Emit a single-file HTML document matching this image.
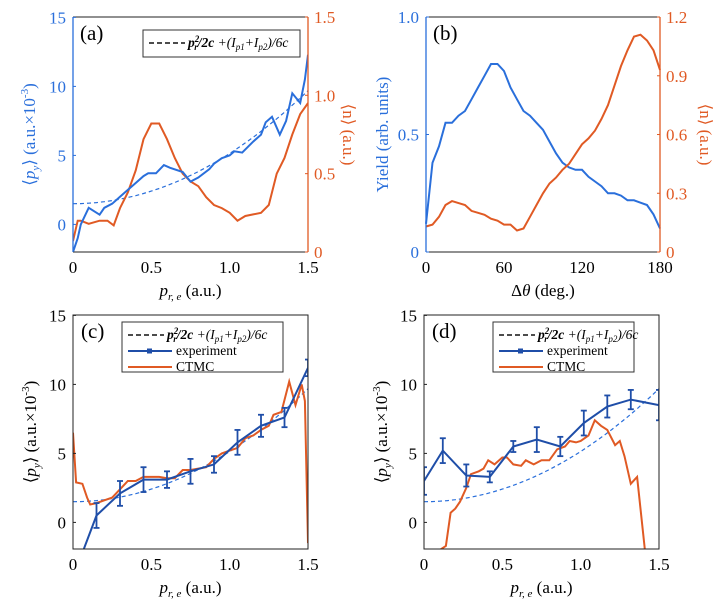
<!DOCTYPE html>
<html><head><meta charset="utf-8"><style>
body{margin:0;background:#fff}
svg{display:block;font-family:"Liberation Serif",serif}
</style></head><body>
<svg id="s" width="722" height="607" viewBox="0 0 722 607" xmlns="http://www.w3.org/2000/svg"></svg>
<script>
const S=document.getElementById('s');let h='';
const B='#2a6fdb',BD='#1f4ea8',O='#e05a24';
function pl(pts,fx,fy,col,w,extra){return `<polyline fill="none" stroke="${col}" stroke-width="${w}" ${extra||''} points="${pts.map(p=>fx(p[0]).toFixed(1)+','+fy(p[1]).toFixed(1)).join(' ')}"/>`;}
function panel(x0,x1,y0,y1,id){h+=`<clipPath id="${id}"><rect x="${x0}" y="${y0}" width="${x1-x0}" height="${y1-y0}"/></clipPath>`;}
// (a)
let ax0=73,ax1=308,ay0=17,ay1=252;
let fxa=x=>ax0+x*(ax1-ax0)/1.5, fya=v=>224.4-v*13.8, fna=n=>252-n*156.7;
panel(ax0,ax1,ay0,ay1,'ca');
let dash=[];for(let i=0;i<=30;i++){let x=i*0.05;dash.push([x,1.5+3.64*x*x]);}
h+=`<g clip-path="url(#ca)">`;
h+=pl(dash,fxa,fya,B,1.2,'stroke-dasharray="4,3"');
h+=pl([[0,.07],[.03,.2],[.05,.2],[.1,.18],[.17,.2],[.22,.2],[.26,.17],[.3,.28],[.35,.38],[.4,.52],[.45,.72],[.5,.82],[.55,.82],[.6,.72],[.65,.6],[.7,.5],[.75,.45],[.8,.42],[.85,.35],[.9,.3],[.95,.28],[1,.25],[1.05,.2],[1.1,.23],[1.15,.24],[1.2,.25],[1.25,.3],[1.3,.5],[1.35,.6],[1.4,.75],[1.45,.88],[1.5,.95]],fxa,fna,O,2);
h+=pl([[0,-2],[.03,-1],[.05,0],[.1,1.2],[.17,.7],[.2,1.2],[.25,1.5],[.3,2],[.35,2.5],[.4,3],[.45,3.5],[.48,3.7],[.53,3.7],[.58,4.3],[.62,4.1],[.7,3.8],[.75,3.1],[.8,3.4],[.87,4],[.9,4.4],[.95,4.8],[1,5],[1.03,5.3],[1.08,5.2],[1.15,6],[1.2,6.5],[1.23,7.4],[1.27,7.8],[1.32,6.5],[1.36,7.5],[1.4,9.5],[1.45,8.8],[1.48,10.5],[1.5,12.3]],fxa,fya,B,2);
h+=`</g>`;
h+=`<line x1="${ax0}" y1="${ay1}" x2="${ax1}" y2="${ay1}" stroke="#222"/><line x1="${ax0}" y1="${ay0}" x2="${ax1}" y2="${ay0}" stroke="#222"/>`;
h+=`<line x1="${ax0}" y1="${ay0}" x2="${ax0}" y2="${ay1}" stroke="${B}" stroke-width="1.3"/><line x1="${ax1}" y1="${ay0}" x2="${ax1}" y2="${ay1}" stroke="${O}" stroke-width="1.3"/>`;
[0,5,10,15].forEach(v=>{let y=fya(v);h+=`<line x1="${ax0}" y1="${y}" x2="${ax0+3}" y2="${y}" stroke="${B}"/><text x="${ax0-7}" y="${y+6}" font-size="17" fill="${B}" text-anchor="end">${v}</text>`});
[0,.5,1,1.5].forEach(v=>{let y=fna(v);h+=`<line x1="${ax1-3}" y1="${y}" x2="${ax1}" y2="${y}" stroke="${O}"/><text x="${ax1+6}" y="${y+6}" font-size="17" fill="${O}">${v==0?'0':v.toFixed(1)}</text>`});
[0,.5,1,1.5].forEach(v=>{let x=fxa(v);h+=`<text x="${x}" y="${ay1+21}" font-size="17" text-anchor="middle">${v==0?'0':v.toFixed(1)}</text>`});
h+=`<text x="${(ax0+ax1)/2}" y="${ay1+44}" font-size="17" text-anchor="middle"><tspan font-style="italic">p</tspan><tspan font-style="italic" font-size="11" dy="4">r, e</tspan><tspan dy="-4"> (a.u.)</tspan></text>`;
h+=`<text transform="translate(35,${(ay0+ay1)/2}) rotate(-90)" font-size="17" fill="${B}" text-anchor="middle">⟨<tspan font-style="italic">p</tspan><tspan font-style="italic" font-size="11" dy="4">y</tspan><tspan dy="-4">⟩ (a.u.×10</tspan><tspan font-size="11" dy="-7">-3</tspan><tspan dy="7">)</tspan></text>`;
h+=`<text transform="translate(343,${(ay0+ay1)/2}) rotate(90)" font-size="17" fill="${O}" text-anchor="middle">⟨n⟩ (a.u.)</text>`;
h+=`<text x="80" y="40" font-size="21">(a)</text>`;
function legend(x,y,w,hh,rows){h+=`<rect x="${x}" y="${y}" width="${w}" height="${hh}" fill="#fff" stroke="#333"/>`;
 rows.forEach((r,i)=>{let yy=y+13+i*16;
  if(r[0]=='d')h+=`<line x1="${x+6}" y1="${yy}" x2="${x+42}" y2="${yy}" stroke="#111" stroke-width="1.6" stroke-dasharray="5,3"/><text x="${x+45}" y="${yy+4}" font-size="13.5" font-weight="bold" font-style="italic">p<tspan font-size="9" dy="-5">2</tspan><tspan font-size="9" dx="-5" dy="8">r</tspan><tspan dy="-3">/2c</tspan><tspan font-weight="normal"> +(I</tspan><tspan font-size="9" font-weight="normal" dy="3">p1</tspan><tspan font-weight="normal" dy="-3">+I</tspan><tspan font-size="9" font-weight="normal" dy="3">p2</tspan><tspan font-weight="normal" dy="-3">)/6c</tspan></text>`;
  if(r[0]=='e')h+=`<line x1="${x+6}" y1="${yy}" x2="${x+50}" y2="${yy}" stroke="${BD}" stroke-width="2"/><rect x="${x+25}" y="${yy-2.5}" width="5" height="5" fill="${BD}"/><text x="${x+54}" y="${yy+4}" font-size="13.5">experiment</text>`;
  if(r[0]=='c')h+=`<line x1="${x+6}" y1="${yy}" x2="${x+50}" y2="${yy}" stroke="${O}" stroke-width="2"/><text x="${x+54}" y="${yy+4}" font-size="13.5">CTMC</text>`;
 });}
legend(143,30,157,27,['d']);
// (b)
let bx0=426,bx1=660,by0=17,by1=252;
let fxb=x=>bx0+x*(bx1-bx0)/180, fyb=v=>252-v*235, fnb=n=>252-n*195.8;
h+=pl([[0,.12],[5,.38],[10,.45],[15,.55],[20,.55],[25,.58],[30,.6],[35,.65],[40,.7],[45,.75],[50,.8],[55,.8],[60,.77],[65,.7],[70,.65],[75,.6],[80,.58],[85,.55],[90,.52],[95,.47],[100,.42],[105,.38],[110,.36],[115,.35],[120,.35],[125,.32],[130,.3],[135,.28],[140,.25],[145,.25],[150,.24],[155,.22],[160,.22],[165,.21],[170,.2],[175,.16],[180,.1]],fxb,fyb,B,2);
h+=pl([[0,.13],[5,.14],[10,.18],[15,.24],[20,.26],[25,.25],[30,.24],[35,.21],[40,.2],[45,.19],[50,.17],[55,.16],[60,.14],[65,.14],[70,.11],[75,.12],[80,.18],[85,.24],[90,.3],[95,.35],[100,.38],[105,.42],[110,.45],[115,.5],[120,.55],[125,.58],[130,.62],[135,.68],[140,.75],[145,.85],[150,.95],[155,1.03],[160,1.1],[165,1.11],[170,1.08],[175,1.03],[180,.93]],fxb,fnb,O,2);
h+=`<line x1="${bx0}" y1="${by1}" x2="${bx1}" y2="${by1}" stroke="#222"/><line x1="${bx0}" y1="${by0}" x2="${bx1}" y2="${by0}" stroke="#222"/>`;
h+=`<line x1="${bx0}" y1="${by0}" x2="${bx0}" y2="${by1}" stroke="${B}" stroke-width="1.3"/><line x1="${bx1}" y1="${by0}" x2="${bx1}" y2="${by1}" stroke="${O}" stroke-width="1.3"/>`;
[0,.5,1].forEach(v=>{let y=fyb(v);h+=`<line x1="${bx0}" y1="${y}" x2="${bx0+3}" y2="${y}" stroke="${B}"/><text x="${bx0-7}" y="${y+6}" font-size="17" fill="${B}" text-anchor="end">${v==0?'0':v.toFixed(1)}</text>`});
[0,.3,.6,.9,1.2].forEach(v=>{let y=fnb(v);h+=`<line x1="${bx1-3}" y1="${y}" x2="${bx1}" y2="${y}" stroke="${O}"/><text x="${bx1+6}" y="${y+6}" font-size="17" fill="${O}">${v==0?'0':v.toFixed(1)}</text>`});
[0,60,120,180].forEach(v=>{h+=`<text x="${fxb(v)}" y="${by1+21}" font-size="17" text-anchor="middle">${v}</text>`});
h+=`<text x="${(bx0+bx1)/2}" y="${by1+44}" font-size="17" text-anchor="middle">Δ<tspan font-style="italic">θ</tspan> (deg.)</text>`;
h+=`<text transform="translate(388,${(by0+by1)/2}) rotate(-90)" font-size="17" fill="${B}" text-anchor="middle">Yield (arb. units)</text>`;
h+=`<text transform="translate(700,${(by0+by1)/2}) rotate(90)" font-size="17" fill="${O}" text-anchor="middle">⟨n⟩ (a.u.)</text>`;
h+=`<text x="433" y="40" font-size="21">(b)</text>`;
// (c),(d)
function lower(x0,x1,id,lab,exp,ct,lx){
 let y0=315,y1=549;let fx=x=>x0+x*(x1-x0)/1.5,fy=v=>522.4-v*13.8;
 panel(x0,x1,y0,y1,id);
 h+=`<g clip-path="url(#${id})">`;
 h+=pl(dash,fx,fy,B,1.2,'stroke-dasharray="4,3"');
 h+=pl(ct,fx,fy,O,2);
 h+=pl(exp.map(e=>[e[0],e[1]]),fx,fy,BD,2);
 exp.forEach(e=>{if(e[2]){let x=fx(e[0]);h+=`<line x1="${x}" y1="${fy(e[1]-e[2])}" x2="${x}" y2="${fy(e[1]+e[2])}" stroke="${BD}" stroke-width="1.8"/><line x1="${x-3}" y1="${fy(e[1]-e[2])}" x2="${x+3}" y2="${fy(e[1]-e[2])}" stroke="${BD}" stroke-width="1.8"/><line x1="${x-3}" y1="${fy(e[1]+e[2])}" x2="${x+3}" y2="${fy(e[1]+e[2])}" stroke="${BD}" stroke-width="1.8"/>`;}});
 h+=`</g><rect x="${x0}" y="${y0}" width="${x1-x0}" height="${y1-y0}" fill="none" stroke="#222"/>`;
 [0,5,10,15].forEach(v=>{let y=fy(v);h+=`<line x1="${x0}" y1="${y}" x2="${x0+3}" y2="${y}" stroke="#222"/><text x="${x0-7}" y="${y+6}" font-size="17" text-anchor="end">${v}</text>`});
 [0,.5,1,1.5].forEach(v=>{h+=`<text x="${fx(v)}" y="${y1+21}" font-size="17" text-anchor="middle">${v==0?'0':v.toFixed(1)}</text>`});
 h+=`<text x="${(x0+x1)/2}" y="${y1+44}" font-size="17" text-anchor="middle"><tspan font-style="italic">p</tspan><tspan font-style="italic" font-size="11" dy="4">r, e</tspan><tspan dy="-4"> (a.u.)</tspan></text>`;
 h+=`<text transform="translate(${x0-37},${(y0+y1)/2}) rotate(-90)" font-size="17" text-anchor="middle">⟨<tspan font-style="italic">p</tspan><tspan font-style="italic" font-size="11" dy="4">y</tspan><tspan dy="-4">⟩ (a.u.×10</tspan><tspan font-size="11" dy="-7">-3</tspan><tspan dy="7">)</tspan></text>`;
 h+=`<text x="${x0+8}" y="338" font-size="21">${lab}</text>`;
 legend(lx,322,x1-25-lx,50,['d','e','c']);
}
lower(73,308,'cc','(c)',[[0,-4],[.15,.5,.9],[.3,2.1,.9],[.45,3.1,.9],[.6,3.1,.6],[.75,3.7,.9],[.9,4.2,.6],[1.05,5.8,.9],[1.2,7,.8],[1.35,7.6,.7],[1.5,11.2,.6]],
 [[0,6.5],[.02,2.9],[.06,2.8],[.09,1.8],[.11,1.3],[.15,1.4],[.2,1.6],[.25,1.8],[.3,2.4],[.35,3],[.4,3],[.45,3.3],[.5,3.3],[.55,3.3],[.6,3.2],[.65,3.2],[.7,3.8],[.75,3.8],[.8,3.9],[.85,4],[.9,4.6],[.95,5],[1,5.2],[1.05,5.4],[1.1,6.1],[1.15,6.3],[1.2,6.7],[1.25,7],[1.28,7.8],[1.33,8],[1.38,10.2],[1.42,8.5],[1.46,10],[1.48,8.8],[1.5,-1.5]],122);
lower(424,659,'cd','(d)',[[0,3,1],[.12,5.2,.9],[.27,3.4,.8],[.42,3.3,.4],[.57,5.5,.4],[.72,6,.9],[.87,5.5,.7],[1.02,7.2,.9],[1.17,8.4,.8],[1.32,8.9,.7],[1.5,8.5,1.1]],
 [[.1,-2],[.14,-1.7],[.17,.7],[.2,1],[.23,1.5],[.27,2.5],[.3,3.5],[.35,3.7],[.38,3.9],[.41,4.5],[.45,4.2],[.5,4.7],[.53,4.7],[.57,4.2],[.62,4.1],[.65,4.5],[.7,4.2],[.75,4.5],[.8,4.5],[.85,5.3],[.9,5.5],[.93,5.9],[.97,5.8],[1,5.9],[1.05,6.3],[1.09,7.4],[1.13,7],[1.17,6.7],[1.22,5.6],[1.25,5.9],[1.28,4.8],[1.32,2.8],[1.36,3.3],[1.41,-2]],493);
S.innerHTML=h;
</script>
</body></html>
